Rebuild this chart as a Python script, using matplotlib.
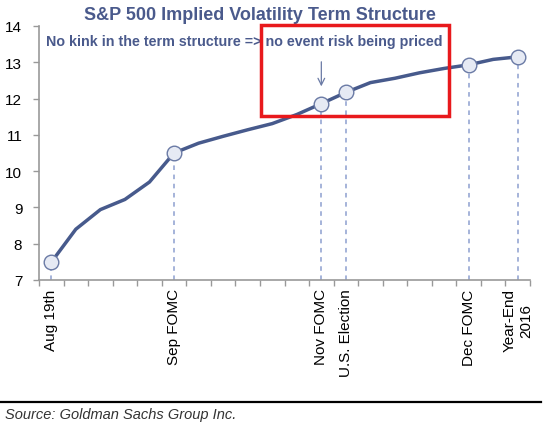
import matplotlib
matplotlib.use("Agg")
import matplotlib.pyplot as plt
from matplotlib.patches import Rectangle

# ---- data ----
values = [7.49, 8.40, 8.94, 9.22, 9.70, 10.50, 10.77, 10.96, 11.14, 11.31,
          11.56, 11.86, 12.17, 12.44, 12.56, 12.71, 12.83, 12.93, 13.08, 13.15]
event_idx = [0, 5, 11, 12, 17, 19]
event_labels = ["Aug 19th", "Sep FOMC", "Nov FOMC", "U.S. Election",
                "Dec FOMC", "Year-End\n2016"]
yticks = [7, 8, 9, 10, 11, 12, 13, 14]
title = "S&P 500 Implied Volatility Term Structure"
note = "No kink in the term structure => no event risk being priced"
source = "Source: Goldman Sachs Group Inc."

plt.rcParams['font.family'] = ['Liberation Sans', 'DejaVu Sans']

W, H = 550, 435
fig = plt.figure(figsize=(W / 100, H / 100), dpi=100)
ax_left, ax_right, ax_top, ax_bot = 39, 530, 27, 281
ax = fig.add_axes([ax_left / W, (H - ax_bot) / H,
                   (ax_right - ax_left) / W, (ax_bot - ax_top) / H])

line_col = "#475a8c"
text_col = "#4a5a8c"
dash_col = "#8d9fd0"

n = len(values)
xs = list(range(n))

# dashed drop lines
for i in event_idx:
    ax.plot([i, i], [yticks[0], values[i]], color=dash_col, lw=1.1,
            dashes=(3, 3), zorder=1)

ax.plot(xs, values, color=line_col, lw=2.5, zorder=2, solid_capstyle='round')
ax.plot([xs[i] for i in event_idx], [values[i] for i in event_idx],
        linestyle='none', marker='o', markersize=10.5, markerfacecolor="#e6eaf4",
        markeredgecolor="#6a7aa5", markeredgewidth=1.0, zorder=3)

ax.set_xlim(-0.5, n - 0.5)
ax.set_ylim(yticks[0], yticks[-1])
ax.set_yticks(yticks)
ax.set_yticklabels([str(t) for t in yticks], fontsize=11)

ax.set_xticks(event_idx)
ax.set_xticklabels(event_labels, rotation=90, fontsize=11, va='top',
                   ha='center', multialignment='center')
ax.set_xticks([i - 0.5 for i in range(n + 1)], minor=True)
ax.tick_params(axis='x', which='major', length=0, pad=6)
ax.tick_params(axis='x', which='minor', length=4, width=1.0, color="#999999",
               direction='out')
ax.tick_params(axis='y', length=4, width=1.0, color="#999999", pad=8)

for s in ['top', 'right']:
    ax.spines[s].set_visible(False)
for s in ['left', 'bottom']:
    ax.spines[s].set_color("#999999")
    ax.spines[s].set_linewidth(1.2)

# arrow
ax.annotate("", xy=(11, 12.26), xytext=(11, 13.09),
            arrowprops=dict(arrowstyle="->", color="#6a7aa5", lw=0.9,
                            mutation_scale=12), zorder=4)

# title and note
fig.text(260 / W, 1 - 16 / H, title, ha='center', va='center', fontsize=13,
         fontweight='bold', color=text_col)
fig.text(46 / W, 1 - 42 / H, note, ha='left', va='center', fontsize=10.3,
         fontweight='bold', color=text_col)

# red box
fig.patches.append(Rectangle((261 / W, 1 - 117 / H), (449 - 261) / W,
                             (117 - 26) / H, transform=fig.transFigure,
                             fill=False, edgecolor="#e8191c", lw=2.5,
                             zorder=10))

# bottom rule and source
fig.add_artist(plt.Line2D([0, 541 / W], [1 - 403 / H, 1 - 403 / H],
                          transform=fig.transFigure, color="black", lw=1.6))
fig.text(5 / W, 1 - 415 / H, source, ha='left', va='center', fontsize=10.5,
         style='italic', color="#333333")

fig.savefig("out.png", dpi=100)
